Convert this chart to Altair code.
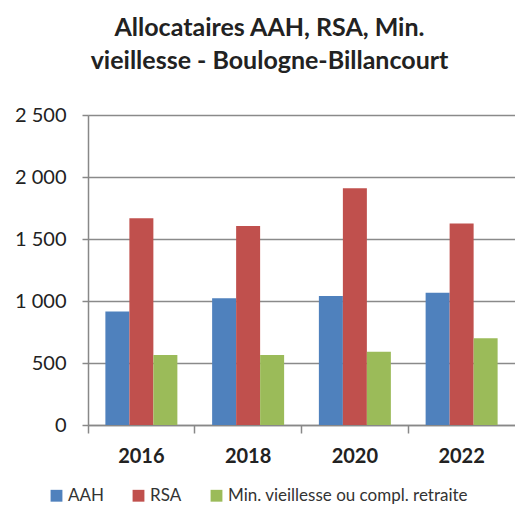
import altair as alt
import pandas as pd

years = ["2016", "2018", "2020", "2022"]
series = ["AAH", "RSA", "Min. vieillesse ou compl. retraite"]
aah = [915, 1022, 1040, 1067]
rsa = [1667, 1605, 1909, 1626]
minv = [565, 565, 591, 699]
colors = ["#4F81BD", "#C0504D", "#9BBB59"]

rows = []
for i, y in enumerate(years):
    for s, vals in zip(series, [aah, rsa, minv]):
        rows.append({"year": y, "serie": s, "value": vals[i]})
df = pd.DataFrame(rows)

FONT = "Lato"

bars = alt.Chart(df).mark_bar(stroke=None).encode(
    x=alt.X("year:N", sort=years, title=None,
            scale=alt.Scale(paddingInner=0, paddingOuter=0),
            axis=alt.Axis(labelAngle=0, bandPosition=0, ticks=True, tickSize=8,
                          tickColor="#888888", domainColor="#888888", domainWidth=1.5,
                          tickWidth=1.5, labelPadding=13, labelFontSize=20,
                          labelFontWeight="bold", labelColor="#222222", labelFont=FONT,
                          labelBound=False, labelFlush=False)),
    xOffset=alt.XOffset("serie:N", sort=series,
                        scale=alt.Scale(paddingInner=0, paddingOuter=0.724)),
    y=alt.Y("value:Q", title=None,
            scale=alt.Scale(domain=[0, 2500], nice=False),
            axis=alt.Axis(values=[0, 500, 1000, 1500, 2000, 2500], grid=True,
                          gridColor="#8a8a8a", gridWidth=1.5, tickSize=6,
                          tickColor="#888888", tickWidth=1.5, domainColor="#888888",
                          domainWidth=1.5, labelPadding=16, labelFontSize=20,
                          labelColor="#222222", labelFont=FONT,
                          labelExpr="replace(format(datum.value, ','), ',', ' ')")),
    color=alt.Color("serie:N", sort=series,
                    scale=alt.Scale(domain=series, range=colors),
                    legend=alt.Legend(title=None, orient="none", direction="horizontal",
                                      legendX=-40, legendY=372, symbolType="square",
                                      symbolSize=140, symbolStrokeWidth=0,
                                      labelFontSize=17, labelFont=FONT, labelLimit=0,
                                      labelColor="#333333", columnPadding=26,
                                      labelOffset=3)),
)

chart = bars.properties(
    width=427, height=310,
    title=alt.Title(["Allocataires AAH, RSA, Min.", "vieillesse - Boulogne-Billancourt"],
                    fontSize=25, font=FONT, fontWeight="bold", color="#222222",
                    anchor="middle", dx=-32, offset=31, lineHeight=33),
    autosize=alt.AutoSizeParams(type="none"),
    padding={"left": 80, "top": 107, "right": 0, "bottom": 85},
).configure_view(stroke=None).configure(background="white")

chart.save("out.html", embed_options={"renderer": "svg", "actions": False})
